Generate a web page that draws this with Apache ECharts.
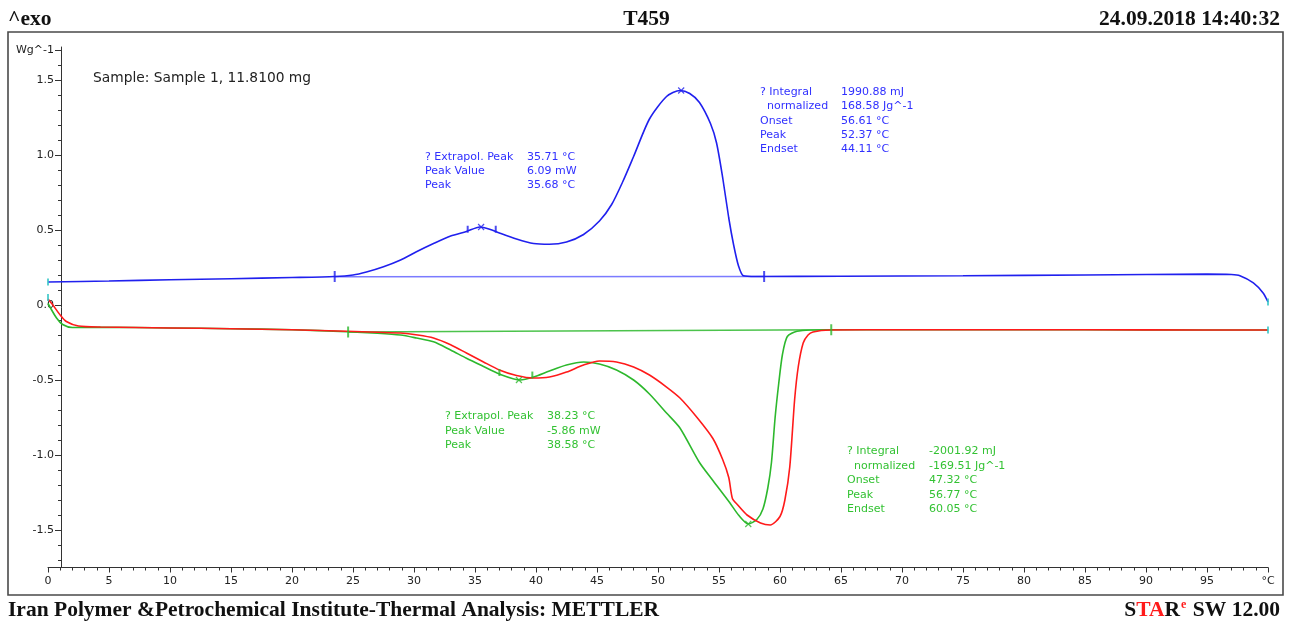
<!DOCTYPE html>
<html>
<head>
<meta charset="utf-8">
<script src="https://cdn.jsdelivr.net/npm/echarts@6/dist/echarts.min.js"></script>
<style>
html,body{margin:0;padding:0;background:#fff;}
#chart{width:1293px;height:621px;}
</style>
</head>
<body>
<div id="chart"></div>
<script>
// ---- data (temperature °C, heat flow W/g) ----
var blueCurve = [
  [0,0.153],[5,0.16],[10,0.168],[15,0.175],[20,0.183],[23.5,0.19],[25,0.2],[26.1,0.22],[27.5,0.255],
  [28.9,0.30],[30.2,0.355],[31.6,0.41],[33,0.46],[34.3,0.49],[35.4,0.52],[36.2,0.505],[37,0.48],
  [38.4,0.44],[39.8,0.41],[41.1,0.405],[42.5,0.42],[43.9,0.47],[45.2,0.56],[46.2,0.67],[47.1,0.82],[48,0.99],
  [49.3,1.24],[50.7,1.39],[51.8,1.43],[52.6,1.41],[53.4,1.35],[54.3,1.21],[54.8,1.08],[55.3,0.85],
  [55.8,0.58],[56.2,0.40],[56.6,0.26],[57,0.195],[58,0.19],[65,0.192],[75,0.195],[85,0.2],
  [95,0.206],[97,0.203],[97.7,0.195],[98.8,0.147],[99.6,0.08],[100,0.02]
];
var blueBaseline = [[23.5,0.188],[58.7,0.19]];
var redCurve = [
  [0,0.04],[0.4,0.0],[1,-0.067],[1.5,-0.11],[2.5,-0.14],[4.3,-0.147],[10,-0.153],[15,-0.158],
  [20,-0.165],[24.5,-0.175],[27,-0.182],[28.9,-0.187],[30.3,-0.2],[31.6,-0.22],[33,-0.265],
  [34.3,-0.32],[35.7,-0.38],[37,-0.433],[38.4,-0.47],[39.8,-0.487],[41.1,-0.48],[42.5,-0.447],
  [43.9,-0.40],[45.2,-0.373],[46.6,-0.38],[48,-0.413],[49.3,-0.467],[50.7,-0.547],[51.8,-0.62],
  [53.2,-0.75],[54.5,-0.89],[55.3,-1.03],[55.8,-1.15],[56.1,-1.29],[56.5,-1.33],[57.3,-1.40],
  [58.4,-1.453],[59.2,-1.467],[60,-1.41],[60.4,-1.30],[60.8,-1.08],[61.2,-0.63],[61.5,-0.41],
  [61.9,-0.253],[62.3,-0.20],[62.7,-0.18],[64.1,-0.167],[70,-0.165],[80,-0.165],[90,-0.166],[100,-0.167]
];
var greenCurve = [
  [0,0.01],[0.7,-0.087],[1.2,-0.13],[2,-0.15],[4.3,-0.148],[10,-0.153],[15,-0.158],[20,-0.165],
  [24.5,-0.178],[27,-0.188],[28.9,-0.20],[30.2,-0.22],[31.6,-0.245],[33,-0.30],[34.3,-0.355],
  [35.7,-0.41],[37,-0.46],[38.7,-0.50],[39.8,-0.48],[41.1,-0.44],[42.5,-0.40],[43.9,-0.38],
  [45.2,-0.393],[46.6,-0.433],[48,-0.50],[49.3,-0.593],[50.7,-0.72],[51.8,-0.82],[53.4,-1.05],
  [54.5,-1.17],[55.9,-1.32],[56.6,-1.40],[57.4,-1.46],[58.1,-1.43],[58.6,-1.36],[59.0,-1.22],
  [59.3,-1.05],[59.6,-0.75],[59.9,-0.52],[60.2,-0.33],[60.6,-0.21],[61.4,-0.175],[64,-0.165],
  [70,-0.165],[80,-0.165],[90,-0.166],[100,-0.167]
];
var greenBaseline = [[24.6,-0.18],[64.2,-0.165]];
var bluePeakMarks = [[35.5,0.52],[51.9,1.43]];
var greenPeakMarks = [[38.6,-0.50],[57.4,-1.46]];
var blueLimitMarks = [[23.5,0.19],[58.7,0.19]];
var blueSmallMarks = [[34.4,0.505],[36.7,0.505]];
var greenLimitMarks = [[24.6,-0.18],[64.2,-0.165]];
var greenSmallMarks = [[37.0,-0.45],[39.7,-0.467]];
var endMarks = [[0,0.153],[0,0.05],[100,0.02],[100,-0.167]];

var yMinorTicks = [-1.7,-1.6,-1.5,-1.4,-1.3,-1.2,-1.1,-1.0,-0.9,-0.8,-0.7,-0.6,-0.5,-0.4,-0.3,-0.2,-0.1,
  0,0.1,0.2,0.3,0.4,0.5,0.6,0.7,0.8,0.9,1.0,1.1,1.2,1.3,1.4,1.5,1.6,1.7];
var yMajorTicks = [-1.5,-1.0,-0.5,0,0.5,1.0,1.5,1.7];
var yLabelValues = [-1.5,-1.0,-0.5,0,0.5,1.0,1.5,1.7];
var yUnitLabel = 'Wg^-1';
var xUnitLabel = '°C';

var blueAnn1Labels = '? Extrapol. Peak\nPeak Value\nPeak';
var blueAnn1Values = '35.71 °C\n6.09 mW\n35.68 °C';
var blueAnn2Labels = '? Integral\n  normalized\nOnset\nPeak\nEndset';
var blueAnn2Values = '1990.88 mJ\n168.58 Jg^-1\n56.61 °C\n52.37 °C\n44.11 °C';
var greenAnn1Labels = '? Extrapol. Peak\nPeak Value\nPeak';
var greenAnn1Values = '38.23 °C\n-5.86 mW\n38.58 °C';
var greenAnn2Labels = '? Integral\n  normalized\nOnset\nPeak\nEndset';
var greenAnn2Values = '-2001.92 mJ\n-169.51 Jg^-1\n47.32 °C\n56.77 °C\n60.05 °C';

var BLUE = '#2020ee', RED = '#ff1a1a', GREEN = '#2db82d', CYAN = '#33c6c6';
var BLUE_TXT = '#3030ff', GREEN_TXT = '#33c233';
var annFont = 'DejaVu Sans, Verdana, sans-serif';
var serif = 'Liberation Serif, Times New Roman, serif';

function annText(x, y, text, color, lh) {
  return {type:'text', left:x, top:y, style:{text:text, fill:color, font:'11px ' + annFont, lineHeight:lh}};
}

var chart = echarts.init(document.getElementById('chart'), null, {renderer:'canvas'});
var crossSym = 'path://M0,0L10,10M10,0L0,10';

chart.setOption({
  animation:false,
  backgroundColor:'#fff',
  grid:{left:48, right:25, top:47, bottom:53.5, containLabel:false},
  xAxis:{
    type:'value', min:0, max:100, interval:5,
    axisLine:{show:true, onZero:false, lineStyle:{color:'#333', width:1}},
    axisTick:{show:true, inside:false, length:5, lineStyle:{color:'#333'}},
    minorTick:{show:true, splitNumber:5, length:3, lineStyle:{color:'#333'}},
    splitLine:{show:false},
    axisLabel:{color:'#222', fontSize:11, fontFamily:'DejaVu Sans', margin:8,
      formatter:function(v){ return v === 100 ? xUnitLabel : String(v); }}
  },
  yAxis:[{
    type:'value', min:-1.75, max:1.72, offset:-13,
    axisLine:{show:true, onZero:false, lineStyle:{color:'#333', width:1}},
    axisTick:{show:true, inside:false, length:3, customValues:yMinorTicks, lineStyle:{color:'#333'}},
    splitLine:{show:false},
    axisLabel:{show:true, customValues:yLabelValues, color:'#222', fontSize:11, fontFamily:'DejaVu Sans', margin:7,
      formatter:function(v){ return Math.abs(v-1.7) < 1e-6 ? yUnitLabel : v.toFixed(1); }}
  },{
    type:'value', min:-1.75, max:1.72, offset:-13, position:'left',
    axisLine:{show:false},
    axisTick:{show:true, inside:false, length:6, customValues:yMajorTicks, lineStyle:{color:'#333'}},
    splitLine:{show:false},
    axisLabel:{show:false}
  }],
  series:[
    {type:'line', data:blueBaseline, showSymbol:false, lineStyle:{color:'#5a5aff', width:1.5, opacity:0.8}, z:2},
    {type:'line', data:blueCurve, showSymbol:false, smooth:0.25, lineStyle:{color:BLUE, width:1.6}, z:3},
    {type:'line', data:greenBaseline, showSymbol:false, lineStyle:{color:GREEN, width:1.5, opacity:0.85}, z:2},
    {type:'line', data:greenCurve, showSymbol:false, smooth:0.25, lineStyle:{color:GREEN, width:1.6}, z:3},
    {type:'line', data:redCurve, showSymbol:false, smooth:0.25, lineStyle:{color:RED, width:1.6}, z:4},
    {type:'scatter', data:bluePeakMarks, symbol:crossSym, symbolSize:6, itemStyle:{color:'none', borderColor:BLUE, borderWidth:1.2}, z:5},
    {type:'scatter', data:greenPeakMarks, symbol:crossSym, symbolSize:6, itemStyle:{color:'none', borderColor:GREEN, borderWidth:1.2}, z:5},
    {type:'scatter', data:blueLimitMarks, symbol:'rect', symbolSize:[2,11], itemStyle:{color:BLUE}, z:5},
    {type:'scatter', data:blueSmallMarks, symbol:'rect', symbolSize:[2,7], itemStyle:{color:BLUE}, z:5},
    {type:'scatter', data:greenLimitMarks, symbol:'rect', symbolSize:[2,11], itemStyle:{color:GREEN}, z:5},
    {type:'scatter', data:greenSmallMarks, symbol:'rect', symbolSize:[2,7], itemStyle:{color:GREEN}, z:5},
    {type:'scatter', data:endMarks, symbol:'rect', symbolSize:[2,7], itemStyle:{color:CYAN}, z:6}
  ],
  graphic:[
    {type:'rect', shape:{x:8, y:32, width:1275, height:563}, style:{fill:'none', stroke:'#4a4a4a', lineWidth:1.6}, z:-1},
    {type:'text', left:8, top:8, style:{text:'^exo', fill:'#111', font:'bold 21.5px ' + serif}},
    {type:'text', left:'center', top:8, style:{text:'T459', fill:'#111', font:'bold 21.5px ' + serif}},
    {type:'text', right:13, top:8, style:{text:'24.09.2018 14:40:32', fill:'#111', font:'bold 21.5px ' + serif}},
    {type:'text', left:8, top:599, style:{text:'Iran Polymer &Petrochemical Institute-Thermal Analysis: METTLER', fill:'#111', font:'bold 21.5px ' + serif}},
    {type:'text', right:13, top:599, style:{
      text:'{b|S}{r|TA}{b|R}{s|e}{b| SW 12.00}',
      rich:{
        b:{fill:'#111', font:'bold 21.5px ' + serif},
        r:{fill:'#ff1a1a', font:'bold 21.5px ' + serif},
        s:{fill:'#ff1a1a', font:'bold 12px ' + serif, verticalAlign:'top', padding:[0,1,9,1]}
      }}},
    {type:'text', left:93, top:71, style:{text:'Sample: Sample 1, 11.8100 mg', fill:'#222', font:'13.8px ' + annFont}},
    annText(425, 150, blueAnn1Labels, BLUE_TXT, 14),
    annText(527, 150, blueAnn1Values, BLUE_TXT, 14),
    annText(760, 85, blueAnn2Labels, BLUE_TXT, 14.3),
    annText(841, 85, blueAnn2Values, BLUE_TXT, 14.3),
    annText(445, 409, greenAnn1Labels, GREEN_TXT, 14.5),
    annText(547, 409, greenAnn1Values, GREEN_TXT, 14.5),
    annText(847, 444, greenAnn2Labels, GREEN_TXT, 14.5),
    annText(929, 444, greenAnn2Values, GREEN_TXT, 14.5)
  ]
});
</script>
</body>
</html>
